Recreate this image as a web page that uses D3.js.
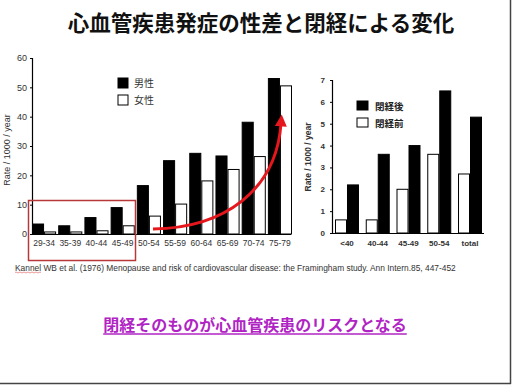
<!DOCTYPE html>
<html>
<head>
<meta charset="utf-8">
<style>
  body { margin: 0; background: #fff; }
  svg { display: block; }
  .tick text { fill: #333; }
  .jp { font-family: "Noto Sans CJK JP", sans-serif; }
  .lat { font-family: "Liberation Sans", Arial, sans-serif; }
</style>
<script src="https://cdn.jsdelivr.net/npm/d3@7"></script>
</head>
<body>
<script>
// left chart: incidence by age group and sex
var ageGroups = ["29-34", "35-39", "40-44", "45-49", "50-54", "55-59", "60-64", "65-69", "70-74", "75-79"];
var maleRate   = [3.4, 2.8, 5.6, 9.0, 16.5, 25.0, 27.5, 26.6, 38.1, 53.0];
var femaleRate = [0.7, 0.7, 1.1, 2.8, 6.1, 10.2, 18.1, 22.0, 26.4, 50.5];
var leftTicks = [0, 10, 20, 30, 40, 50, 60];

// right chart: women, before / after menopause
var meno = ["<40", "40-44", "45-49", "50-54", "total"];
var preMeno  = [0.6, 0.6, 2.0, 3.6, 2.7];
var postMeno = [2.2, 3.6, 4.0, 6.5, 5.3];
var rightTicks = [0, 1, 2, 3, 4, 5, 6, 7];

var svg = d3.select("body").append("svg")
    .attr("width", 512)
    .attr("height", 385);

svg.append("rect").attr("width", 512).attr("height", 385).attr("fill", "#fff");

// slide frame (right / bottom edge)
svg.append("line").attr("x1", 510.5).attr("x2", 510.5).attr("y1", 0).attr("y2", 384)
    .attr("stroke", "#444").attr("stroke-width", 1.5);
svg.append("line").attr("x1", 0).attr("x2", 511).attr("y1", 383.5).attr("y2", 383.5)
    .attr("stroke", "#444").attr("stroke-width", 1.5);

// title
svg.append("text")
    .attr("class", "jp")
    .attr("x", 261).attr("y", 31)
    .attr("text-anchor", "middle")
    .attr("font-size", 21.5).attr("font-weight", "bold")
    .attr("fill", "#111")
    .text("心血管疾患発症の性差と閉経による変化");

// ---------- left chart ----------
var yL = d3.scaleLinear().domain([0, 60]).range([234, 58]);
var xL = d3.scaleBand().domain(ageGroups).range([32, 292]).paddingInner(0.08).paddingOuter(0);
var sexL = d3.scaleBand().domain(["m", "f"]).range([0, xL.bandwidth()]);

var gL = svg.append("g");

var leftData = ageGroups.map(function(a, i) {
  return { age: a, vals: [{ k: "m", v: maleRate[i] }, { k: "f", v: femaleRate[i] }] };
});

gL.selectAll("g.grp")
    .data(leftData)
  .enter().append("g")
    .attr("class", "grp")
    .attr("transform", function(d) { return "translate(" + xL(d.age) + ",0)"; })
  .selectAll("rect")
    .data(function(d) { return d.vals; })
  .enter().append("rect")
    .attr("x", function(d) { return sexL(d.k) + 0.5; })
    .attr("y", function(d) { return yL(d.v); })
    .attr("width", sexL.bandwidth() - 1)
    .attr("height", function(d) { return yL(0) - yL(d.v); })
    .attr("fill", function(d) { return d.k === "m" ? "#000" : "#fff"; })
    .attr("stroke", "#000")
    .attr("stroke-width", 1);

var axL = gL.append("g")
    .attr("class", "lat")
    .attr("transform", "translate(32,0)")
    .call(d3.axisLeft(yL).tickValues(leftTicks).tickSize(2).tickPadding(3));
axL.select(".domain").attr("stroke-width", 1.2);
axL.selectAll("text").attr("font-size", 9).attr("font-family", "Liberation Sans, Arial");

var axLx = gL.append("g")
    .attr("transform", "translate(0,234)")
    .call(d3.axisBottom(xL).tickSize(0).tickPadding(6));
axLx.select(".domain").attr("d", "M32,0.5H291").attr("stroke-width", 1.2);
axLx.selectAll("text").attr("font-size", 8.5).attr("font-family", "Liberation Sans, Arial");

gL.append("text")
    .attr("class", "lat")
    .attr("transform", "translate(10,150) rotate(-90)")
    .attr("text-anchor", "middle")
    .attr("font-size", 9).attr("fill", "#333")
    .text("Rate / 1000 / year");

// legend
var legL = [{ k: "男性", fill: "#000" }, { k: "女性", fill: "#fff" }];
var lg = gL.selectAll("g.leg").data(legL).enter().append("g")
    .attr("transform", function(d, i) { return "translate(118," + (78 + i * 17) + ")"; });
lg.append("rect").attr("width", 10).attr("height", 10)
    .attr("fill", function(d) { return d.fill; }).attr("stroke", "#000");
lg.append("text").attr("class", "jp").attr("x", 16).attr("y", 9)
    .attr("font-size", 10).attr("fill", "#333").text(function(d) { return d.k; });

// red highlight box over the younger age groups
svg.append("rect")
    .attr("x", 28.5).attr("y", 200.5).attr("width", 107).attr("height", 60)
    .attr("fill", "none").attr("stroke", "#b8383a").attr("stroke-width", 1.5);

// red arrow
svg.append("defs").append("marker")
    .attr("id", "ah").attr("viewBox", "0 0 10 10")
    .attr("refX", 2).attr("refY", 5)
    .attr("markerWidth", 4).attr("markerHeight", 5)
    .attr("orient", "auto")
  .append("path").attr("d", "M0,0L10,5L0,10z").attr("fill", "#e5161c");
svg.append("path")
    .attr("d", "M153,229 C225,228 276,190 281,124")
    .attr("fill", "none").attr("stroke", "#e5161c").attr("stroke-width", 3)
    .attr("marker-end", "url(#ah)");

// ---------- right chart ----------
var yR = d3.scaleLinear().domain([0, 7]).range([233, 80]);
var xR = d3.scaleBand().domain(meno).range([335, 482]).paddingInner(0.22).paddingOuter(0);
var stR = d3.scaleBand().domain(["pre", "post"]).range([0, xR.bandwidth()]);

var gR = svg.append("g");
var rightData = meno.map(function(a, i) {
  return { age: a, vals: [{ k: "pre", v: preMeno[i] }, { k: "post", v: postMeno[i] }] };
});

gR.selectAll("g.grp")
    .data(rightData)
  .enter().append("g")
    .attr("class", "grp")
    .attr("transform", function(d) { return "translate(" + xR(d.age) + ",0)"; })
  .selectAll("rect")
    .data(function(d) { return d.vals; })
  .enter().append("rect")
    .attr("x", function(d) { return stR(d.k) + 0.5; })
    .attr("y", function(d) { return yR(d.v); })
    .attr("width", stR.bandwidth() - 1)
    .attr("height", function(d) { return yR(0) - yR(d.v); })
    .attr("fill", function(d) { return d.k === "post" ? "#000" : "#fff"; })
    .attr("stroke", "#000")
    .attr("stroke-width", 1);

var axR = gR.append("g")
    .attr("transform", "translate(332,0)")
    .call(d3.axisLeft(yR).tickValues(rightTicks).tickFormat(d3.format("d")).tickSize(2).tickPadding(5));
axR.select(".domain").attr("stroke-width", 1.2);
axR.selectAll("text").attr("font-size", 8).attr("font-weight", "bold")
    .attr("font-family", "Liberation Sans, Arial");

var axRx = gR.append("g")
    .attr("transform", "translate(0,233)")
    .call(d3.axisBottom(xR).tickSize(0).tickPadding(7));
axRx.select(".domain").attr("d", "M332,0.5H484").attr("stroke-width", 1.2);
axRx.selectAll("text").attr("font-size", 8).attr("font-weight", "bold")
    .attr("font-family", "Liberation Sans, Arial");

gR.append("text")
    .attr("transform", "translate(311,157) rotate(-90)")
    .attr("text-anchor", "middle")
    .attr("font-size", 8.5).attr("font-weight", "bold").attr("fill", "#333")
    .attr("font-family", "Liberation Sans, Arial")
    .text("Rate / 1000 / year");

var legR = [{ k: "閉経後", fill: "#000" }, { k: "閉経前", fill: "#fff" }];
var lgr = gR.selectAll("g.leg").data(legR).enter().append("g")
    .attr("transform", function(d, i) { return "translate(357," + (101 + i * 17) + ")"; });
lgr.append("rect").attr("width", 11).attr("height", 9)
    .attr("fill", function(d) { return d.fill; }).attr("stroke", "#000");
lgr.append("text").attr("class", "jp").attr("x", 18).attr("y", 8.5)
    .attr("font-size", 9.5).attr("font-weight", "bold").attr("fill", "#222")
    .text(function(d) { return d.k; });

// ---------- citation ----------
var cite = svg.append("text")
    .attr("class", "lat")
    .attr("x", 15).attr("y", 270.5)
    .attr("font-size", 8.4).attr("fill", "#333");
cite.append("tspan").text("Kannel");
cite.append("tspan").text(" WB et al. (1976) Menopause and risk of cardiovascular disease: the Framingham study. Ann Intern.85, 447-452");
svg.append("path")
    .attr("d", "M15,272.5 q1,-1 2,0 t2,0 t2,0 t2,0 t2,0 t2,0 t2,0 t2,0 t2,0 t2,0 t2,0 t2,0 t2,0")
    .attr("fill", "none").attr("stroke", "#e05050").attr("stroke-width", 0.6);

// ---------- conclusion ----------
var concl = svg.append("text")
    .attr("class", "jp")
    .attr("x", 255).attr("y", 331)
    .attr("text-anchor", "middle")
    .attr("font-size", 16).attr("font-weight", "bold")
    .attr("fill", "#b024c4")
    .text("閉経そのものが心血管疾患のリスクとなる");
var bb = concl.node().getBBox();
svg.append("line")
    .attr("x1", bb.x).attr("x2", bb.x + bb.width)
    .attr("y1", 334).attr("y2", 334)
    .attr("stroke", "#b024c4").attr("stroke-width", 1.3);
</script>
</body>
</html>
